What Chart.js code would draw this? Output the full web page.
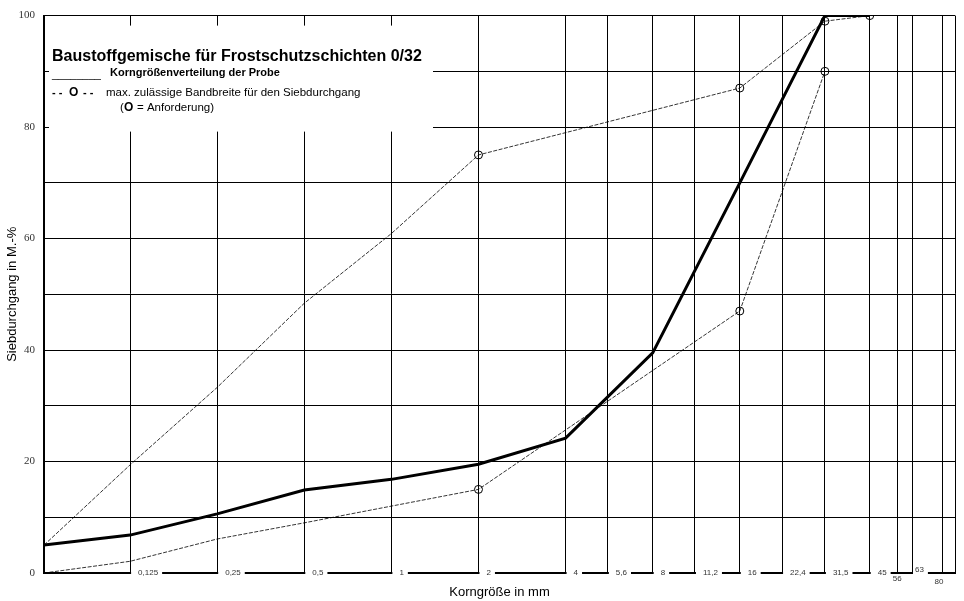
<!DOCTYPE html>
<html lang="de">
<head>
    <meta charset="UTF-8">
    <title>Baustoffgemische für Frostschutzschichten 0/32</title>
    <script src="https://cdn.jsdelivr.net/npm/chart.js"></script>
    <style>
        body {
            margin: 0;
            background-color: #fff;
        }

        #wrap {
            width: 964px;
            height: 601px;
        }
    </style>
</head>
<body>
    <div id="wrap"><canvas id="chart"></canvas></div>

    <script>
        // Siebgrößen (mm) und Beschriftung der x-Achse
        const sieveSizes = [0.063, 0.125, 0.25, 0.5, 1, 2, 4, 5.6, 8, 11.2, 16, 22.4, 31.5, 45, 56, 63, 80];
        const sieveLabels = ['', '0,125', '0,25', '0,5', '1', '2', '4', '5,6', '8', '11,2', '16', '22,4', '31,5', '45', '56', '63', '80'];

        // Korngrößenverteilung der Probe
        const probeSizes = [0.063, 0.125, 0.25, 0.5, 1, 2, 4, 8, 16, 31.5, 45];
        const probePassing = [5.0, 6.8, 10.6, 14.9, 16.8, 19.5, 24.2, 39.5, 70.0, 100, 100];

        // Bandbreite (obere / untere Grenze)
        const upperSizes = [0.063, 0.125, 0.25, 0.5, 1, 2, 16, 31.5, 45];
        const upperPassing = [5, 19.4, 33.3, 48.4, 60.9, 75, 87, 99, 100];
        const lowerSizes = [0.063, 0.125, 0.25, 0.5, 1, 2, 16, 31.5];
        const lowerPassing = [0, 2.1, 6.1, 9.0, 12.0, 15, 47, 90];

        // Siebe mit Anforderung (Kreise)
        const requirementSizes = [2, 16, 31.5, 45];

        const yTicks = [0, 20, 40, 60, 80, 100];
        const xMax = 88.7;

        const SANS = '"Liberation Sans", Arial, sans-serif';
        const SERIF = '"Liberation Serif", "Times New Roman", serif';

        const toPoints = (xs, ys) => xs.map((x, i) => ({ x: x, y: ys[i] }));
        const reqRadius = (c) => (c.raw && requirementSizes.includes(c.raw.x)) ? 4 : 0;

        // Legendenkasten oben links
        const legendBox = {
            id: 'legendBox',
            beforeDatasetsDraw(chart) {
                const { ctx, chartArea: a } = chart;
                ctx.save();
                ctx.fillStyle = '#fff';
                ctx.fillRect(a.left + 5, a.top + 10, 384, 106);
                ctx.fillStyle = '#000';
                ctx.textBaseline = 'alphabetic';
                ctx.textAlign = 'left';
                const x0 = a.left + 8;
                ctx.font = 'bold 16px ' + SANS;
                ctx.fillText('Baustoffgemische für Frostschutzschichten 0/32', x0, a.top + 45);
                ctx.font = '11px ' + SANS;
                ctx.fillText('________', x0, a.top + 62);
                ctx.font = 'bold 11px ' + SANS;
                ctx.fillText('Korngrößenverteilung der Probe', x0 + 58, a.top + 60);
                ctx.font = 'bold 11px ' + SANS;
                ctx.fillText('- -', x0, a.top + 80);
                ctx.font = 'bold 12px ' + SANS;
                ctx.fillText('O', x0 + 17, a.top + 80);
                ctx.font = 'bold 11px ' + SANS;
                ctx.fillText('- -', x0 + 31, a.top + 80);
                ctx.font = '11.5px ' + SANS;
                ctx.fillText('max. zulässige Bandbreite für den Siebdurchgang', x0 + 54, a.top + 80);
                ctx.fillText('(', x0 + 68, a.top + 95);
                ctx.font = 'bold 12px ' + SANS;
                ctx.fillText('O', x0 + 72, a.top + 95);
                ctx.font = '11.5px ' + SANS;
                ctx.fillText('= Anforderung)', x0 + 85, a.top + 95);
                ctx.restore();
            }
        };

        // Beschriftung der Siebe auf der x-Achse
        const sieveAxisLabels = {
            id: 'sieveAxisLabels',
            afterDraw(chart) {
                const { ctx, chartArea: a, scales: { x } } = chart;
                const y0 = a.bottom;
                ctx.save();
                ctx.font = '8px ' + SANS;
                ctx.textBaseline = 'middle';
                sieveSizes.forEach((s, i) => {
                    const text = sieveLabels[i];
                    if (!text) return;
                    const px = x.getPixelForValue(s);
                    const w = ctx.measureText(text).width;
                    if (s === 56 || s === 80) {
                        ctx.textAlign = 'center';
                        ctx.fillStyle = '#333';
                        ctx.fillText(text, px - (s === 80 ? 3 : 0), y0 + (s === 80 ? 9 : 6));
                        return;
                    }
                    const off = s === 63 ? 3 : 8;
                    const dy = s === 63 ? -3 : 0;
                    ctx.fillStyle = '#fff';
                    ctx.fillRect(px + 1, y0 - 3, off + w + 3, 6);
                    ctx.fillStyle = '#333';
                    ctx.textAlign = 'left';
                    ctx.fillText(text, px + off, y0 + dy);
                });
                ctx.restore();
            }
        };

        const ctx = document.getElementById('chart').getContext('2d');
        const chart = new Chart(ctx, {
            type: 'line',
            data: {
                datasets: [
                    {
                        label: 'Korngrößenverteilung der Probe',
                        data: toPoints(probeSizes, probePassing),
                        borderColor: '#000',
                        borderWidth: 3,
                        pointRadius: 0,
                        fill: false
                    },
                    {
                        label: 'obere Grenze',
                        data: toPoints(upperSizes, upperPassing),
                        borderColor: '#000',
                        borderWidth: 0.8,
                        borderDash: [4, 1.5],
                        pointRadius: reqRadius,
                        pointBorderWidth: 1,
                        pointBorderColor: '#000',
                        pointBackgroundColor: 'rgba(0,0,0,0)',
                        fill: false
                    },
                    {
                        label: 'untere Grenze',
                        data: toPoints(lowerSizes, lowerPassing),
                        borderColor: '#000',
                        borderWidth: 0.8,
                        borderDash: [4, 1.5],
                        pointRadius: reqRadius,
                        pointBorderWidth: 1,
                        pointBorderColor: '#000',
                        pointBackgroundColor: 'rgba(0,0,0,0)',
                        fill: false
                    }
                ]
            },
            options: {
                animation: false,
                responsive: true,
                maintainAspectRatio: false,
                layout: { padding: { top: 15, right: 9, left: 0, bottom: 0 } },
                plugins: {
                    legend: { display: false },
                    tooltip: { enabled: false }
                },
                scales: {
                    x: {
                        type: 'logarithmic',
                        min: 0.063,
                        max: xMax,
                        afterBuildTicks: (axis) => {
                            axis.ticks = sieveSizes.concat([xMax]).map(v => ({ value: v }));
                        },
                        afterFit: (axis) => { axis.height = 28; },
                        ticks: { display: false },
                        grid: { color: '#000', lineWidth: 1, drawTicks: false },
                        border: { color: '#000', width: 2 },
                        title: {
                            display: true,
                            text: 'Korngröße in mm',
                            color: '#000',
                            font: { family: SANS, size: 13 },
                            padding: { top: 0, bottom: 1 }
                        }
                    },
                    y: {
                        min: 0,
                        max: 100,
                        afterBuildTicks: (axis) => {
                            const t = [];
                            for (let v = 0; v <= 100; v += 10) t.push({ value: v });
                            axis.ticks = t;
                        },
                        afterFit: (axis) => { axis.width = 44; },
                        ticks: {
                            padding: 9,
                            color: '#333',
                            font: { family: SERIF, size: 11 },
                            callback: (v) => yTicks.includes(v) ? String(v) : ''
                        },
                        grid: { color: '#000', lineWidth: 1, drawTicks: false },
                        border: { color: '#000', width: 2 },
                        title: {
                            display: true,
                            text: 'Siebdurchgang in M.-%',
                            color: '#000',
                            font: { family: SANS, size: 13 },
                            padding: { top: 5, bottom: 0 }
                        }
                    }
                }
            },
            plugins: [legendBox, sieveAxisLabels]
        });
    </script>
</body>
</html>
